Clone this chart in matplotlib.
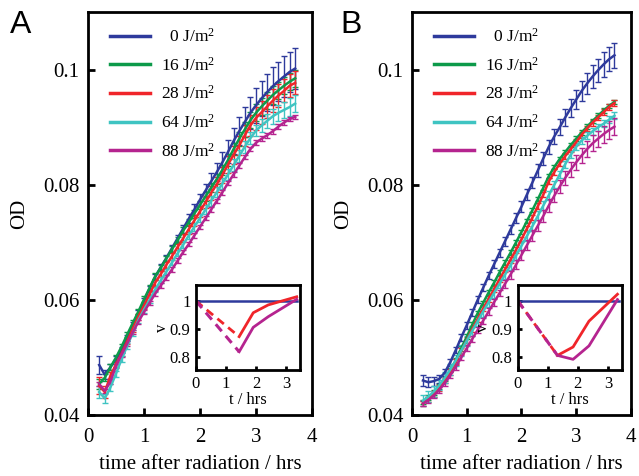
import matplotlib
matplotlib.use("Agg")
import matplotlib.pyplot as plt

plt.rcParams['font.family'] = ['Liberation Serif', 'DejaVu Serif']
plt.rcParams['mathtext.fontset'] = 'custom'
plt.rcParams['mathtext.rm'] = 'Liberation Serif'
plt.rcParams['mathtext.it'] = 'Liberation Serif:italic'

# time points (hrs) for the growth curves
t = [0.2, 0.3, 0.4, 0.5, 0.6, 0.7, 0.8, 0.9, 1.0, 1.1, 1.2, 1.3,
     1.4, 1.5, 1.6, 1.7, 1.8, 1.9, 2.0, 2.1, 2.2, 2.3, 2.4, 2.5,
     2.6, 2.7, 2.8, 2.9, 3.0, 3.1, 3.2, 3.3, 3.4, 3.5, 3.6, 3.7]

labels = [r'  0 J/m$^2$', r'16 J/m$^2$', r'28 J/m$^2$', r'64 J/m$^2$', r'88 J/m$^2$']
colors = ['#2e3a9c', '#0d9a4a', '#f0252a', '#3fc4c2', '#b5248f']

# panel A: OD
a0 = [0.0487, 0.0470, 0.0483, 0.0497, 0.0513, 0.0534, 0.0556, 0.0577, 0.0598, 0.0620, 0.0640, 0.0657,
      0.0673, 0.0690, 0.0707, 0.0724, 0.0741, 0.0757, 0.0774, 0.0790, 0.0806, 0.0822, 0.0839, 0.0857,
      0.0876, 0.0893, 0.0909, 0.0925, 0.0938, 0.0950, 0.0961, 0.0971, 0.0980, 0.0988, 0.0996, 0.1002]
a16 = [0.0454, 0.0465, 0.0483, 0.0500, 0.0519, 0.0540, 0.0560, 0.0580, 0.0601, 0.0621, 0.0641, 0.0656,
       0.0672, 0.0688, 0.0704, 0.0720, 0.0735, 0.0750, 0.0765, 0.0780, 0.0795, 0.0810, 0.0826, 0.0843,
       0.0862, 0.0880, 0.0896, 0.0912, 0.0925, 0.0936, 0.0946, 0.0956, 0.0964, 0.0972, 0.0979, 0.0985]
a28 = [0.0451, 0.0440, 0.0468, 0.0488, 0.0507, 0.0528, 0.0550, 0.0571, 0.0590, 0.0610, 0.0630, 0.0645,
       0.0661, 0.0676, 0.0692, 0.0707, 0.0723, 0.0738, 0.0754, 0.0770, 0.0786, 0.0801, 0.0817, 0.0835,
       0.0852, 0.0868, 0.0886, 0.0903, 0.0916, 0.0926, 0.0936, 0.0946, 0.0955, 0.0963, 0.0972, 0.0977]
a64 = [0.0440, 0.0429, 0.0448, 0.0472, 0.0497, 0.0520, 0.0543, 0.0565, 0.0583, 0.0600, 0.0618, 0.0634,
       0.0649, 0.0665, 0.0681, 0.0696, 0.0712, 0.0727, 0.0742, 0.0757, 0.0772, 0.0787, 0.0802, 0.0818,
       0.0834, 0.0850, 0.0866, 0.0881, 0.0894, 0.0903, 0.0911, 0.0919, 0.0925, 0.0930, 0.0935, 0.0941]
a88 = [0.0454, 0.0442, 0.0458, 0.0485, 0.0505, 0.0524, 0.0544, 0.0562, 0.0579, 0.0595, 0.0611, 0.0625,
       0.0639, 0.0653, 0.0668, 0.0683, 0.0697, 0.0712, 0.0727, 0.0742, 0.0757, 0.0772, 0.0787, 0.0803,
       0.0818, 0.0833, 0.0848, 0.0862, 0.0873, 0.0880, 0.0886, 0.0893, 0.0901, 0.0908, 0.0914, 0.0918]

# panel A: error bars
ea0 = [0.0015, 0.0008, 0.0005, 0.0005, 0.0005, 0.0005, 0.0005, 0.0005, 0.0005, 0.0005, 0.0005, 0.0005,
       0.0005, 0.0006, 0.0006, 0.0007, 0.0008, 0.0009, 0.0010, 0.0012, 0.0014, 0.0016, 0.0018, 0.0020,
       0.0022, 0.0024, 0.0026, 0.0028, 0.0030, 0.0031, 0.0032, 0.0033, 0.0034, 0.0035, 0.0035, 0.0036]
ea16 = [0.0008, 0.0006, 0.0005, 0.0005, 0.0005, 0.0005, 0.0005, 0.0005, 0.0005, 0.0005, 0.0005, 0.0005,
        0.0005, 0.0005, 0.0005, 0.0006, 0.0006, 0.0007, 0.0007, 0.0008, 0.0008, 0.0009, 0.0009, 0.0010,
        0.0011, 0.0012, 0.0013, 0.0014, 0.0015, 0.0015, 0.0015, 0.0015, 0.0015, 0.0015, 0.0015, 0.0015]
ea28 = [0.0015, 0.0010, 0.0006, 0.0005, 0.0005, 0.0005, 0.0005, 0.0005, 0.0005, 0.0005, 0.0005, 0.0005,
        0.0005, 0.0006, 0.0006, 0.0007, 0.0008, 0.0009, 0.0010, 0.0011, 0.0012, 0.0013, 0.0014, 0.0015,
        0.0016, 0.0017, 0.0018, 0.0019, 0.0020, 0.0020, 0.0020, 0.0020, 0.0020, 0.0020, 0.0020, 0.0020]
ea64 = [0.0010, 0.0008, 0.0006, 0.0005, 0.0005, 0.0005, 0.0005, 0.0005, 0.0005, 0.0005, 0.0005, 0.0005,
        0.0005, 0.0005, 0.0005, 0.0006, 0.0006, 0.0007, 0.0007, 0.0008, 0.0008, 0.0009, 0.0009, 0.0010,
        0.0010, 0.0010, 0.0010, 0.0010, 0.0010, 0.0011, 0.0012, 0.0013, 0.0014, 0.0014, 0.0015, 0.0015]
ea88 = [0.0004] * 36

# panel B: OD
b0 = [0.0460, 0.0457, 0.0459, 0.0463, 0.0474, 0.0492, 0.0513, 0.0535, 0.0556, 0.0578, 0.0600, 0.0621,
      0.0642, 0.0662, 0.0682, 0.0702, 0.0722, 0.0742, 0.0762, 0.0783, 0.0804, 0.0825, 0.0846, 0.0866,
      0.0884, 0.0900, 0.0917, 0.0933, 0.0948, 0.0963, 0.0976, 0.0988, 0.0999, 0.1009, 0.1018, 0.1025]
b16 = [0.0423, 0.0430, 0.0439, 0.0450, 0.0463, 0.0478, 0.0495, 0.0516, 0.0536, 0.0557, 0.0577, 0.0595,
       0.0613, 0.0630, 0.0648, 0.0665, 0.0682, 0.0700, 0.0718, 0.0737, 0.0756, 0.0775, 0.0795, 0.0815,
       0.0831, 0.0845, 0.0857, 0.0869, 0.0880, 0.0891, 0.0901, 0.0911, 0.0920, 0.0929, 0.0937, 0.0944]
b28 = [0.0420, 0.0427, 0.0436, 0.0447, 0.0460, 0.0475, 0.0492, 0.0511, 0.0530, 0.0549, 0.0567, 0.0585,
       0.0602, 0.0619, 0.0636, 0.0653, 0.0670, 0.0687, 0.0705, 0.0724, 0.0743, 0.0763, 0.0783, 0.0806,
       0.0822, 0.0837, 0.0850, 0.0862, 0.0874, 0.0887, 0.0898, 0.0908, 0.0917, 0.0926, 0.0935, 0.0942]
b64 = [0.0425, 0.0432, 0.0441, 0.0452, 0.0465, 0.0479, 0.0495, 0.0512, 0.0529, 0.0546, 0.0563, 0.0580,
       0.0596, 0.0612, 0.0628, 0.0644, 0.0660, 0.0677, 0.0694, 0.0711, 0.0728, 0.0746, 0.0764, 0.0782,
       0.0800, 0.0818, 0.0836, 0.0852, 0.0866, 0.0877, 0.0885, 0.0893, 0.0900, 0.0906, 0.0913, 0.0920]
b88 = [0.0420, 0.0426, 0.0434, 0.0444, 0.0456, 0.0469, 0.0484, 0.0500, 0.0516, 0.0532, 0.0548, 0.0564,
       0.0580, 0.0596, 0.0612, 0.0628, 0.0644, 0.0661, 0.0678, 0.0695, 0.0712, 0.0729, 0.0746, 0.0764,
       0.0781, 0.0797, 0.0812, 0.0826, 0.0839, 0.0851, 0.0862, 0.0872, 0.0880, 0.0888, 0.0895, 0.0901]

# panel B: error bars
eb0 = [0.0010, 0.0009, 0.0008, 0.0007, 0.0006, 0.0006, 0.0006, 0.0006, 0.0006, 0.0006, 0.0006, 0.0006,
       0.0006, 0.0007, 0.0007, 0.0008, 0.0008, 0.0009, 0.0009, 0.0010, 0.0010, 0.0011, 0.0011, 0.0012,
       0.0013, 0.0014, 0.0015, 0.0016, 0.0017, 0.0018, 0.0019, 0.0020, 0.0020, 0.0021, 0.0021, 0.0022]
eb16 = [0.0004] * 36
eb28 = [0.0005] * 36
eb64 = [0.0009, 0.0009, 0.0009, 0.0009, 0.0009, 0.0009, 0.0009, 0.0009, 0.0009, 0.0009, 0.0009, 0.0009,
        0.0008, 0.0008, 0.0008, 0.0008, 0.0008, 0.0008, 0.0008, 0.0008, 0.0008, 0.0008, 0.0008, 0.0008,
        0.0006, 0.0006, 0.0006, 0.0006, 0.0006, 0.0006, 0.0006, 0.0006, 0.0006, 0.0006, 0.0006, 0.0006]
eb88 = [0.0005, 0.0005, 0.0005, 0.0005, 0.0005, 0.0005, 0.0005, 0.0005, 0.0005, 0.0005, 0.0005, 0.0005,
        0.0006, 0.0006, 0.0006, 0.0007, 0.0007, 0.0008, 0.0008, 0.0009, 0.0009, 0.0010, 0.0010, 0.0011,
        0.0011, 0.0012, 0.0012, 0.0013, 0.0013, 0.0013, 0.0014, 0.0014, 0.0014, 0.0015, 0.0015, 0.0015]

# insets: relative growth rate v
ins_t_A = [1.44, 1.91, 2.41, 3.36]
ins_red_A = [0.873, 0.958, 0.986, 1.015]
ins_mag_A = [0.819, 0.906, 0.944, 1.006]
ins_t_B = [1.32, 1.84, 2.37, 3.32]
ins_red_B = [0.806, 0.836, 0.928, 1.024]
ins_mag_B = [0.806, 0.792, 0.840, 1.005]

fig = plt.figure(figsize=(6.39, 4.76), dpi=100)
fig.patch.set_facecolor('white')


def style_axes(ax, lw, size, pad, length):
    for s in ax.spines.values():
        s.set_linewidth(lw)
    ax.tick_params(direction='in', top=False, right=False, width=lw,
                   length=length, labelsize=size, pad=pad)


def main_panel(rect, ys, errs, letter, letter_x):
    ax = fig.add_axes(rect)
    for y, e, c, lab in zip(ys, errs, colors, labels):
        ax.errorbar(t, y, yerr=e, color=c, lw=1.8, elinewidth=1.0,
                    capsize=2, capthick=1.0, label=lab)
    ax.set_xlim(0, 4)
    ax.set_ylim(0.04, 0.11)
    ax.set_xticks([0, 1, 2, 3, 4])
    ax.set_yticks([0.04, 0.06, 0.08, 0.1])
    ax.set_yticklabels(['0.04', '0.06', '0.08', '0.1'])
    style_axes(ax, 2.0, 15, 6, 5)
    ax.tick_params(axis='x', pad=9)
    ax.set_xlabel('time after radiation / hrs', fontsize=15, labelpad=6)
    ax.set_ylabel('OD', fontsize=15, labelpad=10)
    handles, labs = ax.get_legend_handles_labels()
    handles = [h[0] for h in handles]
    leg = ax.legend(handles, labs, loc='upper left', bbox_to_anchor=(0.03, 1.0),
                    frameon=False, fontsize=12.5, handlelength=2.3,
                    handletextpad=0.6, labelspacing=0.62)
    for h in leg.get_lines():
        h.set_linewidth(2.5)
    fig.text(letter_x, 0.978, letter, fontsize=23, family='Liberation Sans',
             ha='left', va='top')
    return ax


def inset(rect, tt, red, mag):
    ax = fig.add_axes(rect)
    ax.plot([0, 3.36], [1, 1], color=colors[0], lw=1.8)
    ax.plot([0, tt[0]], [1, red[0]], color=colors[2], lw=2, dashes=(3, 2))
    ax.plot([0, tt[0]], [1, mag[0]], color=colors[4], lw=2.2, dashes=(3, 2))
    ax.plot(tt, red, color=colors[2], lw=2)
    ax.plot(tt, mag, color=colors[4], lw=2)
    ax.set_xlim(0, 3.47)
    ax.set_ylim(0.754, 1.057)
    ax.set_xticks([0, 1, 2, 3])
    ax.set_yticks([0.8, 0.9, 1.0])
    ax.set_yticklabels(['0.8', '0.9', '1'])
    style_axes(ax, 2.0, 12, 4, 3)
    ax.set_xlabel('t / hrs', fontsize=12, labelpad=0)
    ax.set_ylabel('v', fontsize=12, labelpad=0)
    return ax


main_panel([0.1377, 0.128, 0.3505, 0.8466], [a0, a16, a28, a64, a88],
           [ea0, ea16, ea28, ea64, ea88], 'A', 0.016)
main_panel([0.6448, 0.128, 0.3425, 0.8466], [b0, b16, b28, b64, b88],
           [eb0, eb16, eb28, eb64, eb88], 'B', 0.533)

inset([0.3067, 0.2227, 0.1628, 0.1786], ins_t_A, ins_red_A, ins_mag_A)
inset([0.8105, 0.2227, 0.1628, 0.1786], ins_t_B, ins_red_B, ins_mag_B)

plt.savefig('out.png', dpi=100)
